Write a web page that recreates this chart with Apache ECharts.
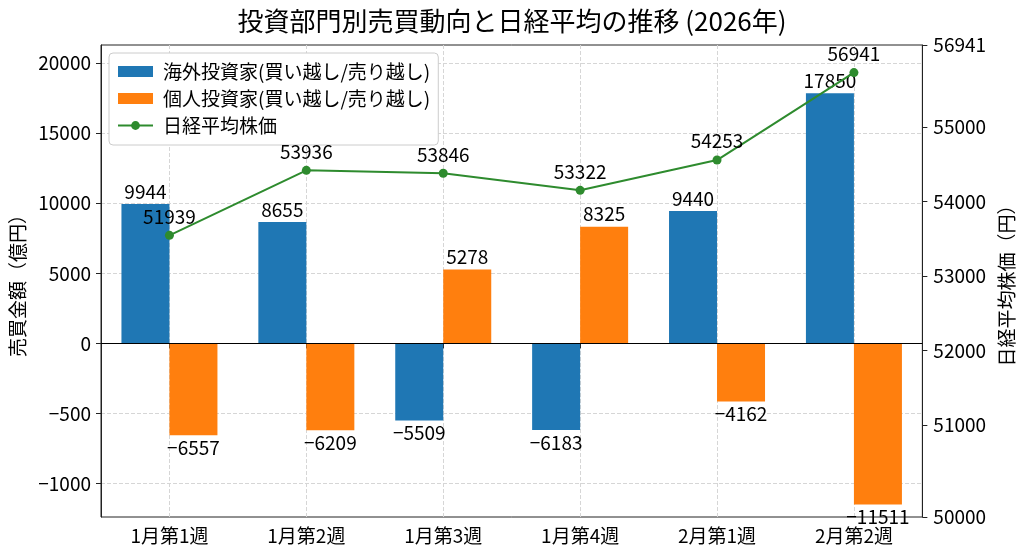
<!DOCTYPE html>
<html>
<head>
<meta charset="utf-8">
<script src="https://cdn.jsdelivr.net/npm/echarts@6/dist/echarts.min.js"></script>
<style>
  html, body { margin: 0; padding: 0; background: #ffffff; }
  #chart { width: 1024px; height: 559px; }
</style>
</head>
<body>
<div id="chart"></div>
<script>
// ---- data ----
const categories = ['1月第1週', '1月第2週', '1月第3週', '1月第4週', '2月第1週', '2月第2週'];
const foreignNet = [9944, 8655, -5509, -6183, 9440, 17850];
const individualNet = [-6557, -6209, 5278, 8325, -4162, -11511];
const nikkei = [51939, 53936, 53846, 53322, 54253, 56941];

const seriesNames = ['海外投資家(買い越し/売り越し)', '個人投資家(買い越し/売り越し)', '日経平均株価'];

const leftTickValues = [-10000, -5000, 0, 5000, 10000, 15000, 20000];
const leftTickLabels = ['−1000', '−500', '0', '5000', '10000', '15000', '20000'];
const rightTickValues = [51000, 52000, 53000, 54000, 55000];
const rightEdgeLabels = ['50000', '56941'];

// ---- axis ranges ----
const LEFT_MIN = -12400, LEFT_MAX = 21300;
const RIGHT_MIN = 49765, RIGHT_MAX = 56101;
const LINE_MIN = 43280, LINE_MAX = 57790;

const FONT = '"Noto Sans CJK JP", "Noto Sans", sans-serif';
const minus = s => String(s).replace('-', '−');

const barData = arr => arr.map(v => ({
  value: v,
  label: { position: v >= 0 ? 'top' : 'bottom' }
}));

const chart = echarts.init(document.getElementById('chart'), null, { renderer: 'canvas' });

const option = {
  animation: false,
  backgroundColor: '#ffffff',
  textStyle: { fontFamily: FONT, color: '#000' },
  title: {
    text: '投資部門別売買動向と日経平均の推移 (2026年)',
    left: 'center',
    top: 8,
    padding: 0,
    textStyle: { fontFamily: FONT, fontSize: 26, fontWeight: 'normal', color: '#000' }
  },
  legend: {
    orient: 'vertical',
    left: 109,
    top: 53,
    padding: [9, 8, 10, 8],
    itemGap: 8,
    itemWidth: 35,
    itemHeight: 11,
    backgroundColor: '#ffffff',
    borderColor: '#cccccc',
    borderWidth: 1,
    borderRadius: 4,
    textStyle: { fontFamily: FONT, fontSize: 19, color: '#000', padding: [0, 0, 0, 5] },
    data: [
      { name: seriesNames[0], icon: 'rect' },
      { name: seriesNames[1], icon: 'rect' },
      { name: seriesNames[2] }
    ]
  },
  grid: {
    left: 101,
    right: 98,
    top: 45,
    bottom: 42,
    show: true,
    borderColor: '#222',
    borderWidth: 1,
    backgroundColor: 'transparent'
  },
  xAxis: {
    type: 'category',
    data: categories,
    boundaryGap: true,
    axisLine: { show: true, lineStyle: { color: '#222', width: 1 } },
    axisTick: { show: true, alignWithLabel: true, length: 5, lineStyle: { color: '#222' } },
    axisLabel: { fontFamily: FONT, fontSize: 19, color: '#000', margin: 9 },
    splitLine: { show: true, alignWithLabel: true, lineStyle: { color: '#d6d6d6', type: 'dashed', width: 1 } }
  },
  yAxis: [
    {
      type: 'value',
      position: 'left',
      min: LEFT_MIN,
      max: LEFT_MAX,
      name: '売買金額（億円）',
      nameLocation: 'middle',
      nameRotate: 90,
      nameGap: 74,
      nameTextStyle: { fontFamily: FONT, fontSize: 19, color: '#000' },
      axisLine: { show: true, lineStyle: { color: '#222' } },
      axisTick: { show: true, length: 5, customValues: leftTickValues, lineStyle: { color: '#222' } },
      axisLabel: {
        fontFamily: FONT, fontSize: 19, color: '#000', margin: 10,
        customValues: leftTickValues,
        formatter: v => {
          const i = leftTickValues.indexOf(v);
          return i >= 0 ? leftTickLabels[i] : '';
        }
      },
      splitLine: { show: true, lineStyle: { color: '#d6d6d6', type: 'dashed', width: 1 } }
    },
    {
      type: 'value',
      position: 'right',
      min: RIGHT_MIN,
      max: RIGHT_MAX,
      name: '日経平均株価（円）',
      nameLocation: 'middle',
      nameRotate: 90,
      nameGap: 70,
      nameTextStyle: { fontFamily: FONT, fontSize: 19, color: '#000' },
      axisLine: { show: true, lineStyle: { color: '#222' } },
      axisTick: { show: true, length: 5, customValues: [RIGHT_MIN].concat(rightTickValues, [RIGHT_MAX]), lineStyle: { color: '#222' } },
      axisLabel: {
        fontFamily: FONT, fontSize: 19, color: '#000', margin: 11,
        customValues: [RIGHT_MIN].concat(rightTickValues, [RIGHT_MAX]),
        formatter: v => {
          if (v === RIGHT_MIN) return rightEdgeLabels[0];
          if (v === RIGHT_MAX) return rightEdgeLabels[1];
          return String(v);
        }
      },
      splitLine: { show: false }
    },
    {
      type: 'value',
      show: false,
      min: LINE_MIN,
      max: LINE_MAX,
      splitLine: { show: false }
    }
  ],
  series: [
    {
      name: seriesNames[0],
      type: 'bar',
      yAxisIndex: 0,
      data: barData(foreignNet),
      barWidth: 48,
      barGap: '0%',
      itemStyle: { color: '#1f77b4' },
      label: {
        show: true, distance: 3, fontFamily: FONT, fontSize: 19, color: '#000',
        formatter: p => minus(p.value)
      },
      markLine: {
        silent: true,
        symbol: 'none',
        label: { show: false },
        lineStyle: { color: '#000', width: 1.2, type: 'solid' },
        data: [{ yAxis: 0 }]
      },
      z: 2
    },
    {
      name: seriesNames[1],
      type: 'bar',
      yAxisIndex: 0,
      data: barData(individualNet),
      barWidth: 48,
      barGap: '0%',
      itemStyle: { color: '#ff7f0e' },
      label: {
        show: true, distance: 3, fontFamily: FONT, fontSize: 19, color: '#000',
        formatter: p => minus(p.value)
      },
      z: 2
    },
    {
      name: seriesNames[2],
      type: 'line',
      yAxisIndex: 2,
      data: nikkei,
      symbol: 'circle',
      symbolSize: 9,
      lineStyle: { color: '#2e8b2e', width: 2 },
      itemStyle: { color: '#2e8b2e' },
      label: {
        show: true, position: 'top', distance: 5,
        fontFamily: FONT, fontSize: 19, color: '#000'
      },
      z: 5
    }
  ]
};

chart.setOption(option);
</script>
</body>
</html>
